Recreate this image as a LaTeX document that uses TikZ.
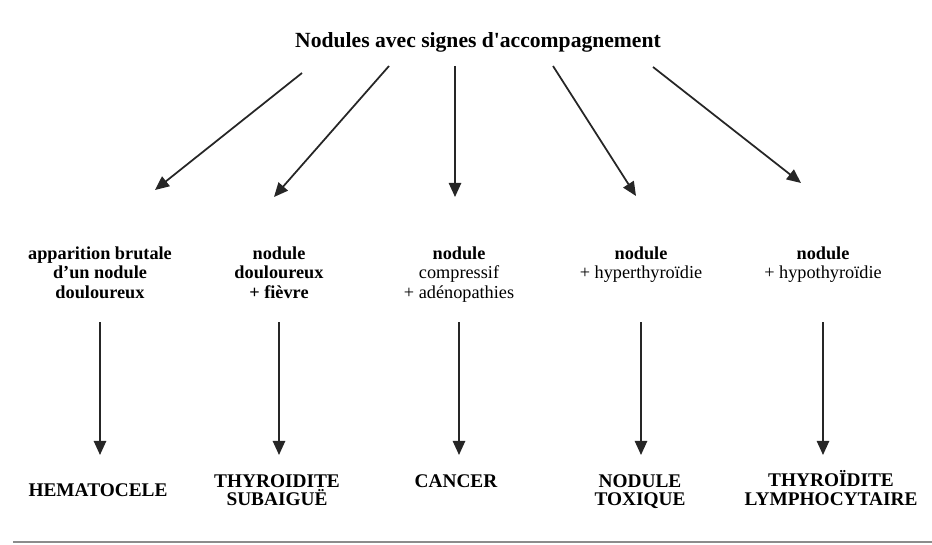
\documentclass[tikz,border=0pt]{standalone}
\usepackage{fontspec}
\setmainfont{Liberation Serif}
\usetikzlibrary{arrows.meta}

\begin{document}
\begin{tikzpicture}[x=0.02cm, y=-0.02cm, >={Triangle[length=8pt,width=7pt]},
    head/.style={font=\bfseries\fontsize{12.3}{14}\selectfont, inner sep=0pt, anchor=base},
    sign/.style={font=\fontsize{10.4}{11.3}\selectfont, align=center, inner sep=0pt, anchor=north},
    diag/.style={font=\bfseries\fontsize{11}{10.6}\selectfont, align=center, inner sep=0pt, anchor=north},
    arr/.style={->, line width=1pt, black!85}]
        \useasboundingbox (0,0) rectangle (932,544);

        % ==== TITLE ====
        \node[head] (title) at (478,48) {Nodules avec signes d\textquotesingle accompagnement};

        % ==== SIGNS ====
        \node[sign] (m1) at (100,246) {\textbf{apparition brutale}\\\textbf{d’un nodule}\\\textbf{douloureux}};
        \node[sign] (m2) at (279,246) {\textbf{nodule}\\\textbf{douloureux}\\\textbf{+ fièvre}};
        \node[sign] (m3) at (459,246) {\textbf{nodule}\\compressif\\+ adénopathies};
        \node[sign] (m4) at (641,246) {\textbf{nodule}\\+ hyperthyroïdie};
        \node[sign] (m5) at (823,246) {\textbf{nodule}\\+ hypothyroïdie};

        % ==== DIAGNOSES ====
        \node[diag] (b1) at (98,483) {HEMATOCELE};
        \node[diag] (b2) at (277,474) {THYROIDITE\\SUBAIGUË};
        \node[diag] (b3) at (456,474) {CANCER};
        \node[diag] (b4) at (640,474) {NODULE\\TOXIQUE};
        \node[diag] (b5) at (831,470) {THYROÏDITE\\LYMPHOCYTAIRE};

        % ==== Arrows from the title ====
        \coordinate (s1) at (302,73);
        \coordinate (s2) at (389,66);
        \coordinate (s3) at (455,66);
        \coordinate (s4) at (553,66);
        \coordinate (s5) at (653,67);
        \coordinate (e1) at (155,190);
        \coordinate (e2) at (274,197);
        \coordinate (e3) at (455,197);
        \coordinate (e4) at (636,196);
        \coordinate (e5) at (801,183);
        \draw[arr] (s1) -- (e1);
        \draw[arr] (s2) -- (e2);
        \draw[arr] (s3) -- (e3);
        \draw[arr] (s4) -- (e4);
        \draw[arr] (s5) -- (e5);

        % ==== Vertical arrows ====
        \coordinate (vtop) at (0,322);
        \coordinate (vbot) at (0,455);
        \draw[arr] (m1 |- vtop) -- (m1 |- vbot);
        \draw[arr] (m2 |- vtop) -- (m2 |- vbot);
        \draw[arr] (m3 |- vtop) -- (m3 |- vbot);
        \draw[arr] (m4 |- vtop) -- (m4 |- vbot);
        \draw[arr] (m5 |- vtop) -- (m5 |- vbot);

        % ==== Bottom rule ====
        \draw[line width=1.5pt, black!45] (13,542) -- (932,542);
\end{tikzpicture}
\end{document}
